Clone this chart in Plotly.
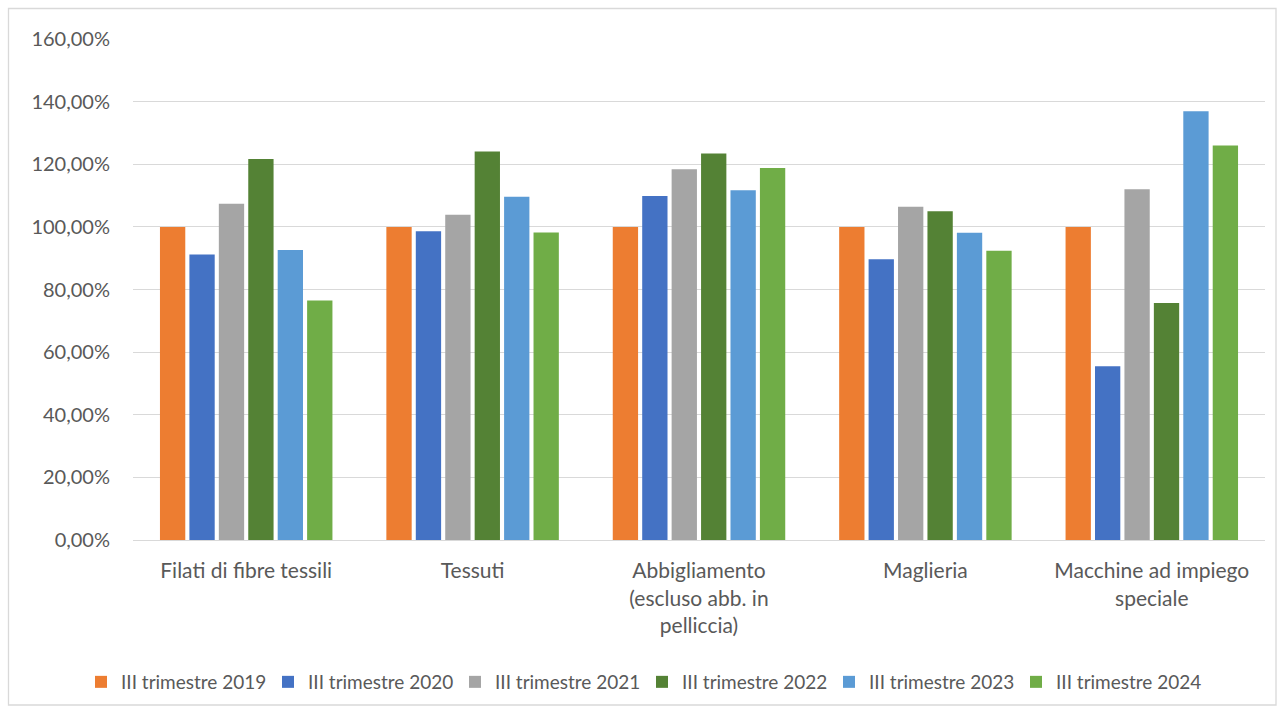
import plotly.graph_objects as go

categories = [
    "Filati di fibre tessili",
    "Tessuti",
    "Abbigliamento<br>(escluso abb. in<br>pelliccia)",
    "Maglieria",
    "Macchine ad impiego<br>speciale",
]
series_names = [
    "III trimestre 2019",
    "III trimestre 2020",
    "III trimestre 2021",
    "III trimestre 2022",
    "III trimestre 2023",
    "III trimestre 2024",
]
v2019 = [1.000, 1.000, 1.000, 1.000, 1.000]
v2020 = [0.912, 0.986, 1.099, 0.897, 0.555]
v2021 = [1.074, 1.039, 1.184, 1.064, 1.120]
v2022 = [1.217, 1.241, 1.234, 1.050, 0.757]
v2023 = [0.926, 1.096, 1.117, 0.981, 1.369]
v2024 = [0.765, 0.982, 1.188, 0.924, 1.260]
colors = ["#ED7D31", "#4472C4", "#A5A5A5", "#548235", "#5B9BD5", "#70AD47"]

series_values = [v2019, v2020, v2021, v2022, v2023, v2024]

fig = go.Figure()
for name, vals, col in zip(series_names, series_values, colors):
    fig.add_trace(go.Bar(
        x=categories, y=vals, name=name,
        marker=dict(color=col, line=dict(width=0)),
    ))

font_family = "Lato, 'Open Sans', 'Liberation Sans', sans-serif"
W, H = 1284, 711
ml, mr, mt, mb = 133, 19, 39, 171
pw, ph = W - ml - mr, H - mt - mb

fig.update_layout(
    width=W, height=H,
    margin=dict(l=ml, r=mr, t=mt, b=mb, autoexpand=False),
    paper_bgcolor="white", plot_bgcolor="white",
    barmode="group", bargap=0.22, bargroupgap=0.14,
    separators=",.",
    font=dict(family=font_family, color="#595959", size=21),
    showlegend=True,
    legend=dict(
        orientation="h", xref="container", yref="container",
        x=0.5, xanchor="center", y=1 - 682 / H, yanchor="middle",
        font=dict(size=19, color="#595959"),
        itemwidth=30, tracegroupgap=0,
        entrywidth=142, entrywidthmode="pixels",
        bgcolor="rgba(0,0,0,0)",
    ),
    yaxis=dict(
        range=[0, 1.6], dtick=0.2, tickformat=".2%",
        showgrid=True, gridcolor="#D9D9D9", gridwidth=1.3,
        zeroline=False, showline=False, ticks="", ticklen=0,
        tickfont=dict(size=20, color="#595959"),
        ticklabelstandoff=22, automargin=False,
    ),
    xaxis=dict(
        showline=True, linecolor="#D9D9D9", linewidth=1.3,
        ticks="", tickfont=dict(size=21, color="#595959"),
        ticklabelstandoff=12, automargin=False,
    ),
    shapes=[dict(
        type="rect", xref="paper", yref="paper",
        x0=(8.5 - ml) / pw, x1=(1276 - ml) / pw,
        y0=(H - 705 - mb) / ph, y1=(H - 8.5 - mb) / ph,
        line=dict(color="#D9D9D9", width=1.3), fillcolor="rgba(0,0,0,0)",
        layer="below",
    )],
)

fig.write_html("out.html")
